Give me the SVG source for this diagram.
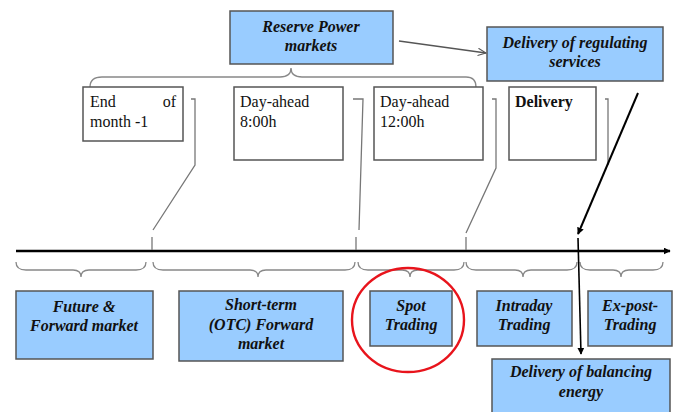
<svg xmlns="http://www.w3.org/2000/svg" width="675" height="412" viewBox="0 0 675 412">
  <defs>
    <marker id="arrow" viewBox="0 0 10 10" refX="9" refY="5" markerWidth="7" markerHeight="7" orient="auto" markerUnits="userSpaceOnUse">
      <path d="M0,0 L10,5 L0,10 Z" fill="#000"/>
    </marker>
    <marker id="arrowOpen" viewBox="0 0 10 10" refX="9" refY="5" markerWidth="9" markerHeight="9" orient="auto" markerUnits="userSpaceOnUse">
      <path d="M0,1 L9,5 L0,9" fill="none" stroke="#555" stroke-width="1.3"/>
    </marker>
  </defs>
  <style>
    .blue { fill: #99ccff; stroke: #555; stroke-width: 1.5; }
    .white { fill: #fff; stroke: #555; stroke-width: 1.5; }
    .bt { font-family: "Liberation Serif", "Times New Roman", serif; font-size: 16px; font-weight: bold; font-style: italic; fill: #111; text-anchor: middle; }
    .wt { font-family: "Liberation Serif", "Times New Roman", serif; font-size: 16px; fill: #111; }
    .brace { fill: none; stroke: #888; stroke-width: 1.3; }
    .lead { fill: none; stroke: #777; stroke-width: 1.3; }
  </style>
  <rect width="675" height="412" fill="#fff"/>

  <!-- connectors -->
  <g id="connectors">
    <!-- time axis -->
    <line x1="16" y1="251" x2="670" y2="251" stroke="#000" stroke-width="2.5" marker-end="url(#arrow)"/>
    <!-- upper brace spanning the day-ahead boxes -->
    <path class="brace" d="M90,87 Q90,77 102,77 L280,77 Q291,77 291,68 Q291,77 302,77 L466,77 Q476,77 476,87"/>
    <!-- lower braces -->
    <path class="brace" d="M16,262 Q16,270 26,270 L73,270 Q81,270 81,277 Q81,270 89,270 L136,270 Q146,270 146,262"/>
    <path class="brace" d="M153,262 Q153,270 163,270 L250,270 Q258,270 258,277 Q258,270 266,270 L345,270 Q355,270 355,262"/>
    <path class="brace" d="M358,262 Q358,270 368,270 L402,270 Q410,270 410,277 Q410,270 418,270 L454,270 Q464,270 464,262"/>
    <path class="brace" d="M466,262 Q466,270 476,270 L515,270 Q523,270 523,277 Q523,270 531,270 L567,270 Q577,270 577,262"/>
    <path class="brace" d="M580,262 Q580,270 590,270 L613,270 Q621,270 621,277 Q621,270 629,270 L653,270 Q663,270 663,262"/>
    <!-- leaders from the time boxes down to the axis -->
    <path class="lead" d="M191,99 L195,99 L195,165 L153,230"/>
    <line class="lead" x1="152" y1="237" x2="152" y2="250"/>
    <path class="lead" d="M353,99 L363,99 L359,230"/>
    <line class="lead" x1="356" y1="237" x2="356" y2="250"/>
    <path class="lead" d="M492,99 L496,99 L496,168 L466,233"/>
    <line class="lead" x1="466" y1="237" x2="466" y2="250"/>
    <path class="lead" d="M605,99 L608,99 L608,165"/>
    <!-- reserve markets to regulating services -->
    <line x1="399" y1="41" x2="486" y2="53" stroke="#555" stroke-width="1.3" marker-end="url(#arrowOpen)"/>
    <!-- delivery arrows -->
    <line x1="638" y1="93" x2="578" y2="234" stroke="#000" stroke-width="2" marker-end="url(#arrow)"/>
    <line x1="578" y1="238" x2="581" y2="354" stroke="#000" stroke-width="1.6" marker-end="url(#arrow)"/>
  </g>

  <!-- spot trading highlight -->
  <ellipse cx="408" cy="320" rx="56" ry="52" fill="none" stroke="#e8141c" stroke-width="2.4"/>

  <g id="reserve-power">
    <rect class="blue" x="230" y="11" width="163" height="53"/>
    <text class="bt" x="311" y="32">Reserve Power</text>
    <text class="bt" x="311" y="51">markets</text>
  </g>
  <g id="regulating-services">
    <rect class="blue" x="487" y="27" width="176" height="54"/>
    <text class="bt" x="575" y="48">Delivery of regulating</text>
    <text class="bt" x="575" y="67">services</text>
  </g>

  <g id="end-of-month">
    <rect class="white" x="83" y="87" width="100" height="54"/>
    <text class="wt" x="90" y="107">End</text>
    <text class="wt" x="176" y="107" text-anchor="end">of</text>
    <text class="wt" x="90" y="127">month -1</text>
  </g>
  <g id="day-ahead-8">
    <rect class="white" x="234" y="87" width="109" height="73"/>
    <text class="wt" x="240" y="107">Day-ahead</text>
    <text class="wt" x="240" y="127">8:00h</text>
  </g>
  <g id="day-ahead-12">
    <rect class="white" x="374" y="87" width="109" height="73"/>
    <text class="wt" x="380" y="107">Day-ahead</text>
    <text class="wt" x="380" y="127">12:00h</text>
  </g>
  <g id="delivery">
    <rect class="white" x="509" y="87" width="87" height="73"/>
    <text class="wt" x="515" y="107" font-weight="bold">Delivery</text>
  </g>

  <g id="future-forward">
    <rect class="blue" x="16" y="291" width="137" height="68"/>
    <text class="bt" x="84" y="312">Future &amp;</text>
    <text class="bt" x="84" y="331">Forward market</text>
  </g>
  <g id="short-term">
    <rect class="blue" x="179" y="291" width="164" height="70"/>
    <text class="bt" x="261" y="310">Short-term</text>
    <text class="bt" x="261" y="330">(OTC) Forward</text>
    <text class="bt" x="261" y="349">market</text>
  </g>
  <g id="spot-trading">
    <rect class="blue" x="370" y="291" width="82" height="55"/>
    <text class="bt" x="411" y="311">Spot</text>
    <text class="bt" x="411" y="330">Trading</text>
  </g>
  <g id="intraday">
    <rect class="blue" x="477" y="291" width="95" height="55"/>
    <text class="bt" x="524" y="311">Intraday</text>
    <text class="bt" x="524" y="330">Trading</text>
  </g>
  <g id="ex-post">
    <rect class="blue" x="588" y="291" width="84" height="55"/>
    <text class="bt" x="630" y="311">Ex-post-</text>
    <text class="bt" x="630" y="330">Trading</text>
  </g>
  <g id="balancing-energy">
    <rect class="blue" x="492" y="359" width="178" height="60"/>
    <text class="bt" x="581" y="377">Delivery of balancing</text>
    <text class="bt" x="581" y="397">energy</text>
  </g>
</svg>
